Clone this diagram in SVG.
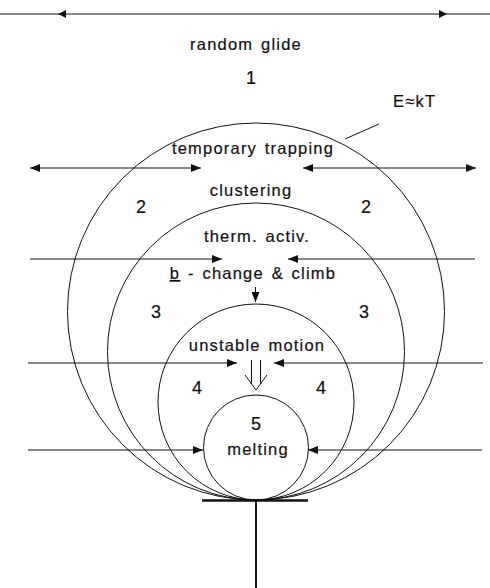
<svg xmlns="http://www.w3.org/2000/svg" width="490" height="588" viewBox="0 0 490 588">
<style>
.c{fill:none;stroke:#111;stroke-width:1}
.l{stroke:#111;stroke-width:1;fill:none}
.t{font-family:"Liberation Sans",Arial,sans-serif;font-size:16.5px;letter-spacing:1.2px;word-spacing:2px;fill:#111;stroke:#111;stroke-width:0.2;text-anchor:middle}
.n{font-family:"Liberation Sans",Arial,sans-serif;font-size:18px;fill:#111;stroke:#111;stroke-width:0.2;text-anchor:middle}
</style>
<defs>
<marker id="ah" viewBox="0 0 10 8" refX="10" refY="4" markerWidth="10" markerHeight="8" markerUnits="userSpaceOnUse" orient="auto-start-reverse">
<path d="M0,0 L10,4 L0,8 Z" fill="#111"/>
</marker>
</defs>
<rect width="490" height="588" fill="#fff"/>
<g id="regions">
<circle id="c1" class="c" cx="256" cy="311.5" r="188.5"/>
<circle id="c2" class="c" cx="256" cy="351.5" r="148.5"/>
<circle id="c3" class="c" cx="256" cy="402" r="98"/>
<circle id="c4" class="c" cx="256" cy="447.5" r="52.5"/>
</g>
<g id="base">
<line x1="202" y1="500.5" x2="308" y2="500.5" stroke="#111" stroke-width="2.5"/>
<line x1="256" y1="500" x2="256" y2="588" stroke="#111" stroke-width="2"/>
</g>
<g id="connectors">
<line class="l" x1="0" y1="14" x2="490" y2="14"/>
<path d="M58,14 L66,10 L66,18 Z" fill="#111"/>
<path d="M447,14 L439,10 L439,18 Z" fill="#111"/>
<line class="l" x1="30" y1="168" x2="201" y2="168" marker-start="url(#ah)" marker-end="url(#ah)"/>
<line class="l" x1="303" y1="168" x2="476" y2="168" marker-start="url(#ah)" marker-end="url(#ah)"/>
<line class="l" x1="30" y1="259" x2="222" y2="259" marker-end="url(#ah)"/>
<line class="l" x1="475" y1="259" x2="288" y2="259" marker-end="url(#ah)"/>
<line class="l" x1="28" y1="363" x2="237" y2="363" marker-end="url(#ah)"/>
<line class="l" x1="483" y1="363" x2="274" y2="363" marker-end="url(#ah)"/>
<line class="l" x1="28" y1="450" x2="203" y2="450" marker-end="url(#ah)"/>
<line class="l" x1="482" y1="450" x2="308" y2="450" marker-end="url(#ah)"/>
<line class="l" x1="255.5" y1="287" x2="255.5" y2="302" marker-end="url(#ah)"/>
<path class="l" d="M251.5,360 V384 M260.5,360 V384 M245,375 L256,390 L267,375" stroke-width="1.4"/>
<line class="l" x1="345" y1="139" x2="379" y2="124"/>
</g>
<g id="labels">
<text class="t" x="246" y="50">random glide</text>
<text class="n" x="251" y="84">1</text>
<text class="t" x="393" y="107" style="text-anchor:start">E≈kT</text>
<text class="t" x="253" y="154">temporary trapping</text>
<text class="t" x="251" y="196">clustering</text>
<text class="n" x="141" y="213">2</text>
<text class="n" x="366" y="213">2</text>
<text class="t" x="257" y="242">therm. activ.</text>
<text class="t" x="253" y="279"><tspan text-decoration="underline">b</tspan> - change &amp; climb</text>
<text class="n" x="156" y="318">3</text>
<text class="n" x="364" y="318">3</text>
<text class="t" x="257" y="351">unstable motion</text>
<text class="n" x="197" y="394">4</text>
<text class="n" x="321" y="394">4</text>
<text class="n" x="256" y="430">5</text>
<text class="t" x="258" y="455">melting</text>
</g>
</svg>
